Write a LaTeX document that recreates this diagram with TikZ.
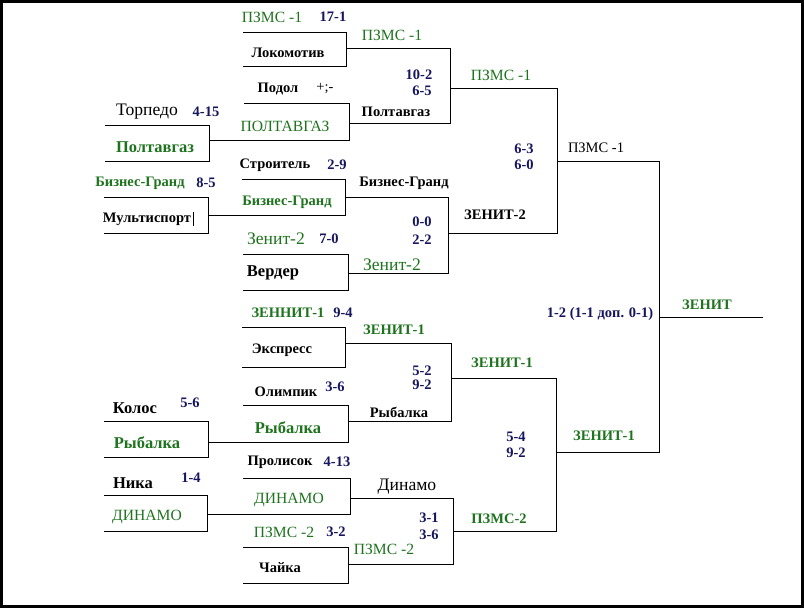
\documentclass[tikz,border=0pt]{standalone}
\usepackage{fontspec}
\setmainfont{Liberation Serif}
\usetikzlibrary{positioning}

\definecolor{wingreen}{RGB}{30,115,30}
\definecolor{scoreblue}{RGB}{22,22,95}
\newcommand{\smallsz}{\fontsize{14.5}{16}\selectfont}
\newcommand{\midsz}{\fontsize{15.6}{17}\selectfont}
\newcommand{\bigsz}{\fontsize{16.5}{18}\selectfont}
\newcommand{\hugesz}{\fontsize{17.6}{19}\selectfont}

\tikzset{
  lbl/.style={inner sep=0pt},
  team/.style={lbl, font=\smallsz\bfseries},
  bigteam/.style={lbl, font=\bigsz\bfseries},
  plain/.style={lbl, font=\smallsz},
  bigplain/.style={lbl, font=\hugesz},
  win/.style={lbl, text=wingreen, font=\smallsz\bfseries},
  bigwin/.style={lbl, text=wingreen, font=\bigsz\bfseries},
  winrm/.style={lbl, text=wingreen, font=\midsz},
  bigwinrm/.style={lbl, text=wingreen, font=\hugesz},
  score/.style={lbl, text=scoreblue, font=\smallsz\bfseries},
  line/.style={line width=0.9pt}
}

\begin{document}
\begin{tikzpicture}[x=1pt, y=-1pt]
    \useasboundingbox (0,0) rectangle (804,608);
    \draw [line width=3pt] (1.5,1.5) rectangle (802.5,606.5);

    % bracket corners: vertical line and output
    \coordinate (L1) at (209,140);
    \coordinate (L2) at (208,215);
    \coordinate (L3) at (208,442);
    \coordinate (L4) at (207,514);
    \coordinate (M1) at (346,48);
    \coordinate (M2) at (349,123);
    \coordinate (M3) at (345,197);
    \coordinate (M4) at (348,273);
    \coordinate (M5) at (345,343);
    \coordinate (M6) at (348,421);
    \coordinate (M7) at (350,498);
    \coordinate (M8) at (348,564);
    \coordinate (T1) at (450,88);
    \coordinate (T2) at (448,233);
    \coordinate (T3) at (451,378);
    \coordinate (T4) at (453,531);
    \coordinate (Q1) at (557,161);
    \coordinate (Q2) at (556,452);
    \coordinate (F) at (659,317);
    \coordinate (end) at (763,317);

    % starts of the team lines
    \coordinate (L1-t) at (105,125);
    \coordinate (L1-b) at (105,161);
    \coordinate (L2-t) at (104,197);
    \coordinate (L2-b) at (104,233);
    \coordinate (L3-t) at (104,421);
    \coordinate (L3-b) at (104,457);
    \coordinate (L4-t) at (104,495);
    \coordinate (L4-b) at (104,531);
    \coordinate (M1-t) at (243,32);
    \coordinate (M1-b) at (243,66);
    \coordinate (M2-t) at (244,103);
    \coordinate (M3-t) at (242,179);
    \coordinate (M4-t) at (243,254);
    \coordinate (M4-b) at (243,290);
    \coordinate (M5-t) at (242,327);
    \coordinate (M5-b) at (242,367);
    \coordinate (M6-t) at (243,405);
    \coordinate (M7-t) at (243,478);
    \coordinate (M8-t) at (243,547);
    \coordinate (M8-b) at (243,583);

    \foreach \v/\a/\b in {L1/L1-t/L1-b, L2/L2-t/L2-b, L3/L3-t/L3-b, L4/L4-t/L4-b,
        M1/M1-t/M1-b, M2/M2-t/L1, M3/M3-t/L2, M4/M4-t/M4-b,
        M5/M5-t/M5-b, M6/M6-t/L3, M7/M7-t/L4, M8/M8-t/M8-b,
        T1/M1/M2, T2/M3/M4, T3/M5/M6, T4/M7/M8,
        Q1/T1/T2, Q2/T3/T4, F/Q1/Q2}
      \draw [line] (\a) -- (\v |- \a) -- (\v |- \b) -- (\b);
    \draw [line] (F) -- (end);

    % upper half
    \node (pzms1a) [winrm] at (272,17) {ПЗМС -1};
    \node (s171) [score] at (333,17) {17-1};
    \node (pzms1b) [winrm] at (392,35) {ПЗМС -1};
    \node (lokomotiv) [team] at (288,53) {Локомотив};
    \node (s102) [score] at (419,75) {10-2};
    \node (s65) [score] at (422,91) {6-5};
    \node (podol) [team] at (278,89) {Подол};
    \node (plus) [plain] at (325,89) {+;-};
    \node (torpedo) [bigplain] at (147,112) {Торпедо};
    \node (s415) [score] at (206,112) {4-15};
    \node (poltavgazc) [team] at (396,112) {Полтавгаз};
    \node (poltavgazb) [winrm] at (285,126) {ПОЛТАВГАЗ};
    \node (poltavgaza) [bigwin] at (155,147) {Полтавгаз};
    \node (stroitel) [team] at (275,165) {Строитель};
    \node (s29) [score] at (337,165) {2-9};
    \node (biznesc) [team] at (404,183) {Бизнес-Гранд};
    \node (biznesa) [win] at (140,183) {Бизнес-Гранд};
    \node (s85) [score] at (206,183) {8-5};
    \node (biznesb) [win] at (287,202) {Бизнес-Гранд};
    \node (multisport) [team] at (147,219) {Мультиспорт};
    \draw [line width=1.3pt] ([xshift=2pt]multisport.north east) -- ([xshift=2pt]multisport.south east);
    \node (s00) [score] at (422,222) {0-0};
    \node (s22) [score] at (422,240) {2-2};
    \node (zenit2a) [bigwinrm] at (276,239) {Зенит-2};
    \node (s70) [score] at (329,239) {7-0};
    \node (verder) [bigteam] at (273,273) {Вердер};
    \node (zenit2b) [bigwinrm] at (392,265) {Зенит-2};
    \node (pzms1c) [winrm] at (501,75) {ПЗМС -1};
    \node (s63) [score] at (524,149) {6-3};
    \node (s60) [score] at (524,165) {6-0};
    \node (pzms1d) [plain] at (596,148) {ПЗМС -1};
    \node (zenit2c) [team] at (495,215) {ЗЕНИТ-2};

    % lower half
    \node (zennit1) [win] at (288,313) {ЗЕННИТ-1};
    \node (s94) [score] at (343,313) {9-4};
    \node (zenit1a) [win] at (394,330) {ЗЕНИТ-1};
    \node (ekspress) [team] at (282,350) {Экспресс};
    \node (s52) [score] at (422,371) {5-2};
    \node (s92a) [score] at (422,385) {9-2};
    \node (olimpik) [team] at (286,392) {Олимпик};
    \node (s36a) [score] at (335,387) {3-6};
    \node (rybalkac) [team] at (399,412) {Рыбалка};
    \node (kolos) [bigteam] at (135,408) {Колос};
    \node (s56) [score] at (190,403) {5-6};
    \node (rybalkab) [bigwin] at (288,428) {Рыбалка};
    \node (rybalkaa) [bigwin] at (147,443) {Рыбалка};
    \node (prolisok) [team] at (280,462) {Пролисок};
    \node (s413) [score] at (337,462) {4-13};
    \node (nika) [bigteam] at (133,483) {Ника};
    \node (s14) [score] at (191,478) {1-4};
    \node (dinamoc) [bigplain] at (407,487) {Динамо};
    \node (dinamob) [winrm] at (289,500) {ДИНАМО};
    \node (dinamoa) [winrm] at (147,517) {ДИНАМО};
    \node (s31) [score] at (429,518) {3-1};
    \node (s36b) [score] at (429,535) {3-6};
    \node (pzms2a) [winrm] at (284,532) {ПЗМС -2};
    \node (s32) [score] at (336,532) {3-2};
    \node (pzms2b) [winrm] at (384,549) {ПЗМС -2};
    \node (chaika) [team] at (280,568) {Чайка};
    \node (zenit1b) [win] at (502,363) {ЗЕНИТ-1};
    \node (s54) [score] at (516,437) {5-4};
    \node (s92b) [score] at (516,453) {9-2};
    \node (zenit1c) [win] at (604,436) {ЗЕНИТ-1};
    \node (pzms2c) [win] at (499,519) {ПЗМС-2};

    % final
    \node (final) [score] at (600,314) {1-2 (1-1 доп. 0-1)};
    \node (zenit) [win] at (707,305) {ЗЕНИТ};
\end{tikzpicture}
\end{document}
